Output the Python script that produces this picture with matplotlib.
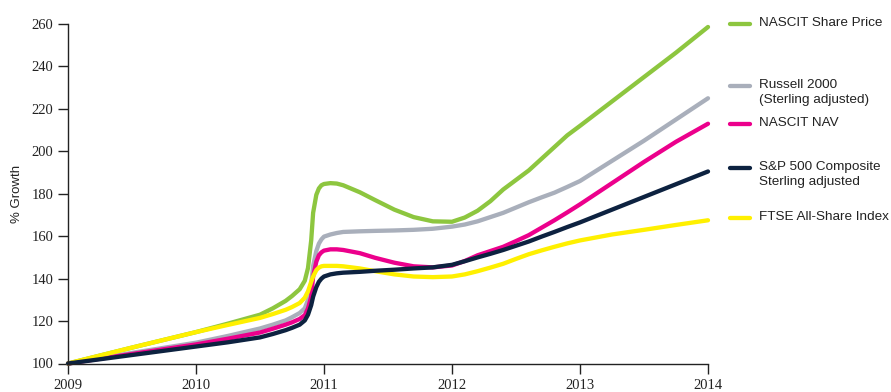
import matplotlib
matplotlib.use("Agg")
import matplotlib.pyplot as plt
from matplotlib.lines import Line2D

# values, % growth rebased to 100 at start of 2009
years = [2009.0, 2009.5, 2010.0, 2010.25, 2010.5, 2010.6, 2010.7, 2010.75,
         2010.81, 2010.85, 2010.875, 2010.9, 2010.915, 2010.94, 2010.96, 2010.98,
         2011.0, 2011.05, 2011.1, 2011.15, 2011.28, 2011.4, 2011.55, 2011.7,
         2011.85, 2012.0, 2012.1, 2012.2, 2012.3, 2012.4, 2012.5, 2012.6,
         2012.7, 2012.8, 2012.9, 2013.0, 2013.25, 2013.5, 2013.75, 2014.0]

share_price = [100, 107.5, 114.8, 118.8, 123, 126, 129.5, 131.8,
               135, 139, 145, 158, 171, 179.5, 182.5, 184,
               184.6, 185, 184.8, 184, 180.7, 177, 172.5, 169,
               167, 166.8, 168.8, 172, 176.5, 182, 186.5, 191,
               196.5, 202, 207.5, 212, 223.5, 235, 246.5, 258.6]
russell = [100, 105, 109.8, 113, 116.5, 118.3, 120.3, 121.8,
           123.8, 126, 130, 137, 146, 153, 156.5, 158.5,
           159.8, 160.8, 161.5, 162, 162.3, 162.5, 162.7, 163,
           163.5, 164.5, 165.5, 167, 169, 171, 173.5, 176,
           178.3, 180.5, 183.2, 186, 195.5, 205, 215, 225]
nav = [100, 104.5, 109, 111.7, 114.6, 116.4, 118.3, 119.4,
       121, 122.8, 126, 131.5, 141, 148, 151, 152.4,
       153.2, 153.8, 153.8, 153.5, 152, 149.8, 147.5, 145.8,
       145.3, 146.2, 148.3, 151, 153, 155, 157.7, 160.5,
       164, 167.5, 171.2, 175, 185, 195, 204.5, 213]
sp500 = [100, 104, 108, 110, 112.3, 113.9, 115.7, 116.8,
         118.3, 120.3, 123, 127.5, 131.5, 136, 138.5, 140,
         141, 142, 142.5, 142.8, 143.2, 143.7, 144.2, 144.8,
         145.3, 146.5, 148.2, 150, 151.7, 153.5, 155.5, 157.5,
         159.8, 162, 164.3, 166.5, 172.5, 178.5, 184.5, 190.5]
ftse = [100, 107.5, 114.8, 118.2, 121.5, 123.3, 125.3, 126.6,
        128.5, 131, 134, 138.5, 141, 144, 145.2, 145.8,
        146, 146, 146, 145.8, 144.8, 143.5, 142, 141,
        140.7, 141, 142, 143.5, 145.2, 147, 149.3, 151.5,
        153.3, 155, 156.6, 158, 160.8, 163, 165.3, 167.5]

series = [
    ("NASCIT Share Price", share_price, "#8dc63f"),
    ("Russell 2000\n(Sterling adjusted)", russell, "#a9afbb"),
    ("NASCIT NAV", nav, "#ec008c"),
    ("FTSE All-Share Index", ftse, "#fff000"),
    ("S&P 500 Composite\nSterling adjusted", sp500, "#0d2240"),
]

# legend rows (figure y in pixels from top) in the order they appear
legend_rows = [
    ("NASCIT Share Price", 24),
    ("Russell 2000\n(Sterling adjusted)", 86),
    ("NASCIT NAV", 124),
    ("S&P 500 Composite\nSterling adjusted", 168),
    ("FTSE All-Share Index", 218),
]

W, H = 891, 392
fig = plt.figure(figsize=(W / 100, H / 100), dpi=100)
ax = fig.add_axes([68 / W, 1 - 363.5 / H, 640 / W, 339.5 / H])

colors = {}
for name, vals, col in series:
    colors[name] = col
    ax.plot(years, vals, color=col, lw=3.1, solid_capstyle="round",
            solid_joinstyle="round", clip_on=False)

ax.set_xlim(2009, 2014)
ax.set_ylim(100, 260)
ax.set_xticks(range(2009, 2015))
ax.set_yticks(range(100, 261, 20))
for s in ("top", "right"):
    ax.spines[s].set_visible(False)
for s in ("left", "bottom"):
    ax.spines[s].set_linewidth(1.0)
    ax.spines[s].set_color("#222222")
ax.tick_params(axis="both", direction="out", length=7, width=1.0,
               color="#222222", labelsize=10.5)
ax.tick_params(axis="x", pad=4)
for lab in ax.get_xticklabels() + ax.get_yticklabels():
    lab.set_fontfamily("Liberation Serif")
    lab.set_color("#222222")
ax.set_ylabel("% Growth", fontsize=9.5, family="Liberation Sans", color="#222222",
              labelpad=6)

for name, ypx in legend_rows:
    fy = 1 - ypx / H
    fig.add_artist(Line2D([730 / W, 750 / W], [fy, fy], color=colors[name],
                          lw=3.1, solid_capstyle="round",
                          transform=fig.transFigure))
    fig.text(759 / W, fy + 7 / H, name, fontsize=9.7, family="Liberation Sans",
             color="#222222", va="top", ha="left", linespacing=1.3)

fig.savefig("out.png", dpi=100)
